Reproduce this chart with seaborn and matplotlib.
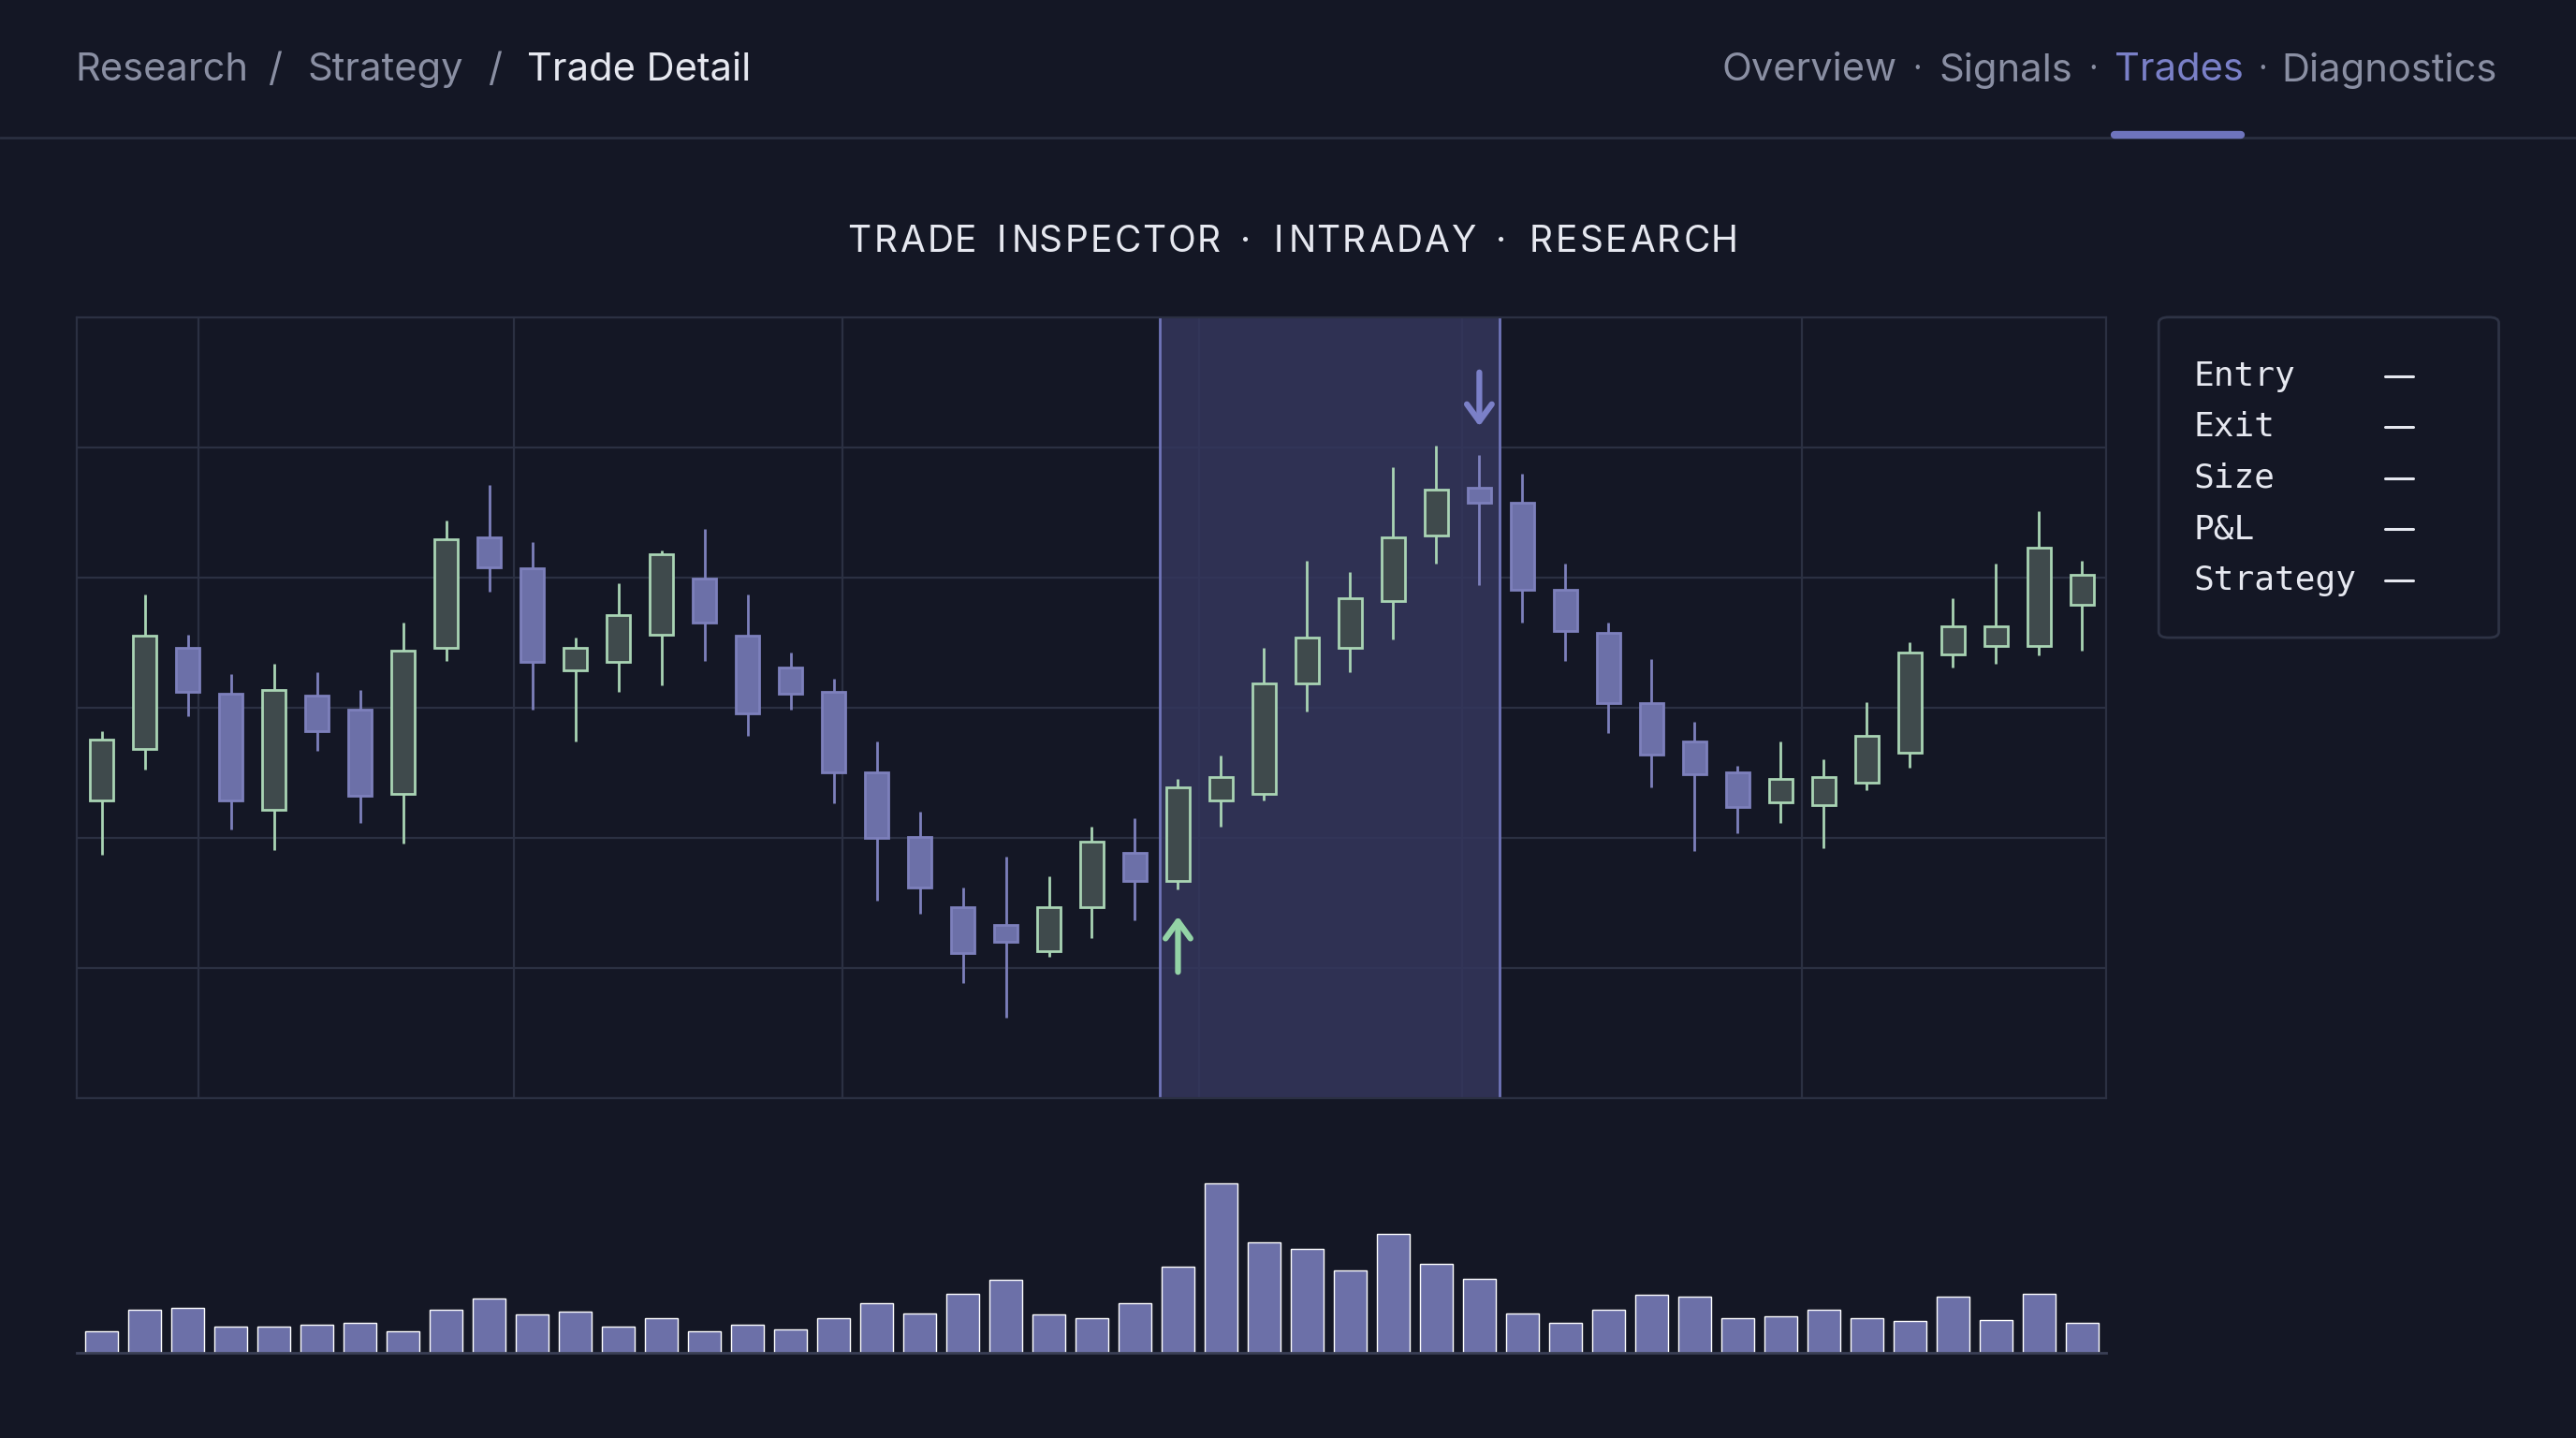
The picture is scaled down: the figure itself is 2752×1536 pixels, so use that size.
import numpy as np
import pandas as pd
import matplotlib
matplotlib.use("Agg")
import matplotlib.pyplot as plt
import seaborn as sns
from matplotlib.patches import FancyBboxPatch

opens = [51.3,54.4,60.6,57.8,50.7,57.7,56.8,51.7,60.6,67.3,65.4,59.2,59.7,61.4,64.8,61.3,59.4,57.9,53.0,49.1,44.8,43.7,42.1,44.8,48.1,46.4,51.3,51.7,58.4,60.6,63.4,67.4,70.3,69.4,64.1,61.5,57.2,54.9,53.0,51.2,51.0,52.4,54.2,60.2,60.7,60.7,63.2]
closes = [55.0,61.3,57.9,51.3,58.0,55.5,51.6,60.4,67.2,65.5,59.7,60.6,62.6,66.3,62.1,56.6,57.8,53.0,49.0,46.0,42.0,42.7,44.8,48.8,46.4,52.1,52.7,58.4,61.2,63.6,67.3,70.2,69.4,64.1,61.6,57.2,54.1,52.9,50.9,52.6,52.7,55.2,60.3,61.9,61.9,66.7,65.0]
highs = [55.5,63.8,61.4,59.0,59.6,59.1,58.0,62.1,68.3,70.5,67.0,61.2,64.5,66.5,67.8,63.8,60.3,58.7,54.9,50.6,46.0,47.9,46.7,49.7,50.2,52.6,54.0,60.6,65.9,65.2,71.6,72.9,72.3,71.2,65.7,62.1,59.9,56.1,53.4,54.9,53.8,57.3,60.9,63.6,65.7,68.9,65.9]
lows = [48.0,53.2,56.4,49.5,48.3,54.3,49.9,48.7,59.8,64.0,56.8,54.9,57.9,58.3,59.8,55.2,56.8,51.1,45.2,44.4,40.2,38.1,41.8,42.9,44.0,45.9,49.7,51.3,56.7,59.1,61.1,65.7,64.4,62.1,59.8,55.4,52.1,48.2,49.3,49.9,48.4,51.9,53.3,59.4,59.6,60.1,60.4]
volumes = [1300,2600,2700,1600,1600,1700,1800,1300,2600,3300,2300,2500,1600,2100,1300,1700,1400,2100,3000,2400,3600,4400,2300,2100,3000,5200,10300,6700,6300,5000,7200,5400,4500,2400,1800,2600,3500,3400,2100,2200,2600,2100,1900,3400,2000,3600,1800]
entry_idx, exit_idx = 25, 32
breadcrumb = ["Research", "Strategy", "Trade Detail"]
tabs = ["Overview", "Signals", "Trades", "Diagnostics"]
legend_rows = ["Entry", "Exit", "Size", "P&L", "Strategy"]
title = "TRADE INSPECTOR · INTRADAY · RESEARCH"

BG = "#141725"
GRID = "#2b3042"
GREEN_E = "#a9d4b4"
GREEN_F = "#3f4a4c"
PURP_F = "#6c70a8"
PURP_E = "#7d80bc"
HILITE = "#34365c"
GREY = "#8a8fa3"

sns.set_theme(style="dark")
plt.rcParams["font.family"] = ["Inter", "DejaVu Sans"]

df = pd.DataFrame({"i": np.arange(len(opens)), "open": opens, "close": closes,
                   "high": highs, "low": lows, "volume": volumes})
df["up"] = df["close"] >= df["open"]

fig = plt.figure(figsize=(27.52, 15.36), dpi=100, facecolor=BG)
W, H = 1568, 875
def fx(x): return x / W
def fy(y): return 1 - y / H

# header
hs = 30
fig.text(fx(46), fy(43), breadcrumb[0], color=GREY, fontsize=hs, va="center")
fig.text(fx(163), fy(43), "/", color=GREY, fontsize=hs, va="center")
fig.text(fx(187), fy(43), breadcrumb[1], color=GREY, fontsize=hs, va="center")
fig.text(fx(297), fy(43), "/", color=GREY, fontsize=hs, va="center")
fig.text(fx(321), fy(43), breadcrumb[2], color="#e6e8f0", fontsize=hs, va="center")
tab_x = [1048, 1180, 1287, 1389]
for t, x in zip(tabs, tab_x):
    fig.text(fx(x), fy(43), t, color="#7a80c8" if t == "Trades" else GREY, fontsize=hs, va="center")
for x in [1167, 1274, 1377]:
    fig.text(fx(x), fy(43), "·", color=GREY, fontsize=24, va="center", ha="center")
fig.add_artist(plt.Line2D([0, 1], [fy(84), fy(84)], color="#2a2f40", lw=2))
fig.add_artist(plt.Line2D([fx(1287), fx(1364)], [fy(82), fy(82)], color="#6e74bd", lw=6))

# title with letter spacing
chars = list(title)
x0, x1 = 516, 1052
from matplotlib.textpath import TextPath
from matplotlib.font_manager import FontProperties
fp = FontProperties(family="Inter", size=28)
widths = [TextPath((0, 0), c if c != " " else "n", prop=fp).get_extents().width if c != " " else 8.0 for c in chars]
widths = [TextPath((0, 0), c, prop=fp).vertices[:, 0].max() if c.strip() else 8.0 for c in chars]
total = sum(widths)
gap = ((x1 - x0) * 1.755 - total) / (len(chars) - 1)
pos = x0 * 1.755
for c, w in zip(chars, widths):
    fig.text(pos / 2752, fy(147), c, color="#e6e8f0", fontsize=28, va="center", fontproperties=fp)
    pos += w + gap

# main axes
ax = fig.add_axes([fx(47), fy(668), fx(1282) - fx(47), fy(193) - fy(668)], facecolor=BG)
xmin, xmax = -0.57, 46.56
ymin, ymax = 33.2, 80.7
ax.set_xlim(xmin, xmax)
ax.set_ylim(ymin, ymax)
for y in np.linspace(ymin, ymax, 7):
    ax.axhline(y, color=GRID, lw=1.6, zorder=0)
for x in [2.25, 9.58, 17.2, 25.5, 31.6, 39.5]:
    ax.axvline(x, color=GRID, lw=1.6, zorder=0)
ax.axvspan(24.58, 32.48, color=HILITE, alpha=0.85, zorder=0.5)
ax.axvline(24.58, color="#6f74b8", lw=2, zorder=0.6)
ax.axvline(32.48, color="#6f74b8", lw=2, zorder=0.6)

bw = 0.55
for _, r in df.iterrows():
    if r["up"]:
        fc, ec = GREEN_F, GREEN_E
    else:
        fc, ec = PURP_F, PURP_E
    ax.vlines(r["i"], r["low"], r["high"], color=ec, lw=2, zorder=2)
    lo, hi = min(r["open"], r["close"]), max(r["open"], r["close"])
    ax.bar(r["i"], hi - lo, bottom=lo, width=bw, color=fc, edgecolor=ec, linewidth=2, zorder=3)

ax.annotate("", xy=(entry_idx, lows[entry_idx] - 1.5), xytext=(entry_idx, lows[entry_idx] - 5.2),
            arrowprops=dict(arrowstyle="->,head_length=1.1,head_width=0.8", color="#93d3a6", lw=4.5), zorder=5)
ax.annotate("", xy=(exit_idx, highs[exit_idx] + 1.6), xytext=(exit_idx, highs[exit_idx] + 5.2),
            arrowprops=dict(arrowstyle="->,head_length=1.1,head_width=0.8", color="#7b80c8", lw=4.5), zorder=5)
ax.set_xticks([]); ax.set_yticks([])
for s in ax.spines.values():
    s.set_color(GRID); s.set_linewidth(1.6)

# volume axes
vax = fig.add_axes([fx(47), fy(823), fx(1282) - fx(47), fy(690) - fy(823)], facecolor=BG)
sns.barplot(data=df, x="i", y="volume", ax=vax, color=PURP_F, saturation=1, width=0.77)
vax.set_xlim(xmin, xmax)
vax.set_ylim(0, 13300)
vax.set_xticks([]); vax.set_yticks([])
vax.set_xlabel(""); vax.set_ylabel("")
for k, s in vax.spines.items():
    s.set_visible(k == "bottom")
vax.spines["bottom"].set_color("#3a3f55"); vax.spines["bottom"].set_linewidth(2)

# legend box
box = FancyBboxPatch((fx(1314), fy(388)), fx(1521) - fx(1314), fy(193) - fy(388),
                     boxstyle="round,pad=0,rounding_size=0.004", transform=fig.transFigure,
                     facecolor=BG, edgecolor="#2e3345", lw=2)
fig.add_artist(box)
for k, name in enumerate(legend_rows):
    y = 229 + 31 * k
    fig.text(fx(1335), fy(y), name, color="#e6e8f0", fontsize=26, va="center", family=["DejaVu Sans Mono"])
    fig.add_artist(plt.Line2D([fx(1452), fx(1469)], [fy(y), fy(y)], color="#e6e8f0", lw=2.2))

fig.savefig("out.png", dpi=100, facecolor=BG)
